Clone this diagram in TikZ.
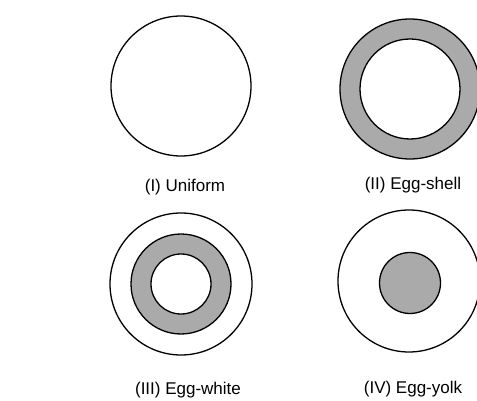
\documentclass[tikz,border=0pt]{standalone}
\usepackage{fontspec}
\setmainfont{Liberation Sans}
\usetikzlibrary{positioning}
\definecolor{cshade}{HTML}{AAAAAA}
\tikzset{
  every picture/.style={line width=1.3pt},
  disc/.style={circle, draw=black, fill=#1, inner sep=0pt},
  disc/.default=white,
  caption/.style={font=\fontsize{17}{20}\selectfont, inner sep=1pt},
}

\begin{document}
\begin{tikzpicture}[x=1pt, y=-1pt]
  \useasboundingbox (0,0) rectangle (477,401);
  % (I) uniform
  \node[disc, minimum size=140pt] (uni) at (181,86) {};
  % (II) egg-shell
  \node[disc=cshade, minimum size=140pt] (shellout) at (410,89) {};
  \node[disc, minimum size=100pt] (shellin) at (shellout) {};
  % (III) egg-white
  \node[disc, minimum size=142pt] (whiteout) at (181,284) {};
  \node[disc=cshade, minimum size=100pt] (whitemid) at (whiteout) {};
  \node[disc, minimum size=60pt] (whitein) at (whiteout) {};
  % (IV) egg-yolk
  \node[disc, minimum size=142pt] (yolkout) at (409,281) {};
  \node[disc=cshade, minimum size=61pt] (yolkin) at (410,283) {};
  % captions
  \node[caption] (capuni) at (185,187) {(I) Uniform};
  \node[caption] (capshell) at (413,185) {(II) Egg-shell};
  \node[caption] (capwhite) at (188,390) {(III) Egg-white};
  \node[caption] (capyolk) at (413,389) {(IV) Egg-yolk};
\end{tikzpicture}
\end{document}
